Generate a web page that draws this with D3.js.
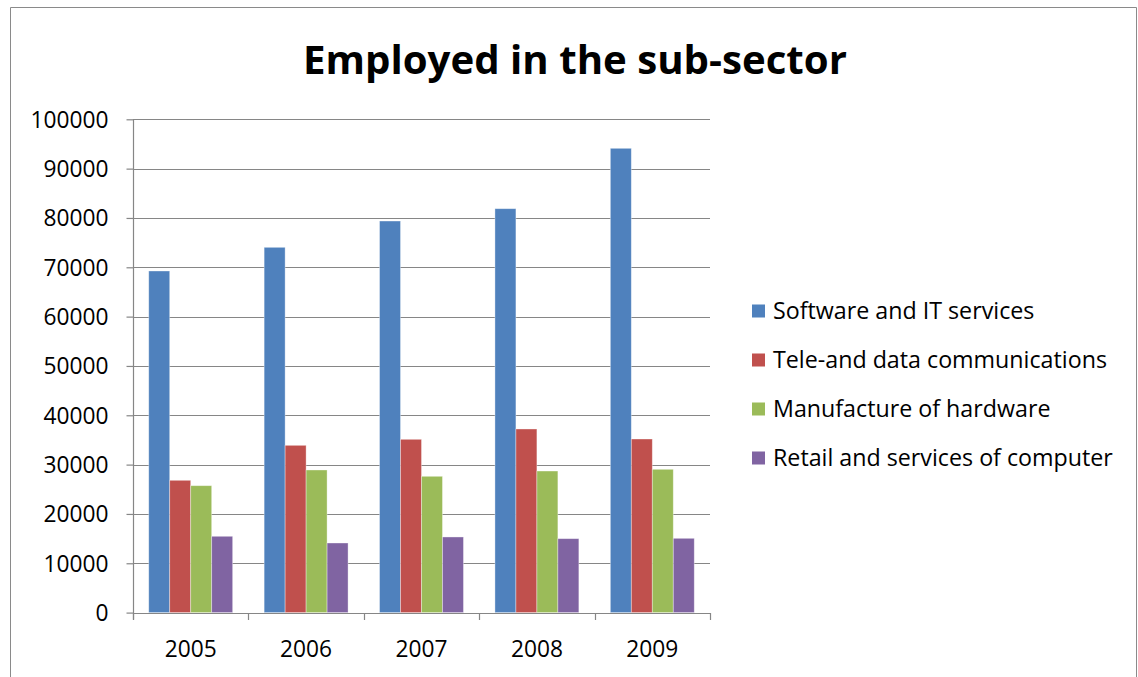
<!DOCTYPE html>
<html>
<head>
<meta charset="utf-8">
<script src="https://cdn.jsdelivr.net/npm/d3@7"></script>
<style>
  html, body { margin: 0; padding: 0; background: #fff; }
  svg { display: block; font-family: "Open Sans", "Noto Sans", sans-serif; }
</style>
</head>
<body>
<svg id="chart" width="1138" height="677"></svg>
<script>
const title = "Employed in the sub-sector";
const years = ["2005", "2006", "2007", "2008", "2009"];
const seriesNames = ["Software and IT services", "Tele-and data communications", "Manufacture of hardware", "Retail and services of computer"];
const software = [69250, 74050, 79380, 81880, 94120];
const telecom  = [26820, 33910, 35130, 37220, 35190];
const hardware = [25730, 28910, 27630, 28700, 29050];
const retail   = [15470, 14110, 15330, 14990, 15060];
const yTicks = [0, 10000, 20000, 30000, 40000, 50000, 60000, 70000, 80000, 90000, 100000];
const colors = ["#4F81BD", "#C0504D", "#9BBB59", "#8064A2"];

const seriesValues = [software, telecom, hardware, retail];
const svg = d3.select("#chart");
const axisColor = "#868686";

// outer chart border
svg.append("path")
  .attr("d", "M10.5,677 L10.5,7.5 L1136.5,7.5 L1136.5,677")
  .attr("fill", "none").attr("stroke", "#8a8a8a").attr("stroke-width", 1);

const plot = { left: 133, right: 710, top: 119.3, bottom: 612.6 };

const x0 = d3.scaleBand().domain(years).range([plot.left, plot.right]).paddingInner(0).paddingOuter(0);
// Excel gap width 150%: each side 0.75 bar widths
const bw = x0.bandwidth() / 5.5;
const y = d3.scaleLinear().domain([0, 100000]).range([plot.bottom, plot.top]);

function fit(sel, target) {
  sel.each(function () {
    const node = this;
    const fs = parseFloat(d3.select(node).attr("font-size"));
    const w = node.getComputedTextLength();
    if (w > 0) d3.select(node).attr("font-size", (fs * target / w).toFixed(2));
  });
}

// gridlines
svg.append("g").selectAll("line").data(yTicks.filter(d => d > 0)).join("line")
  .attr("x1", plot.left).attr("x2", plot.right)
  .attr("y1", d => Math.round(y(d)) + 0.5).attr("y2", d => Math.round(y(d)) + 0.5)
  .attr("stroke", axisColor).attr("stroke-width", 1.2);

// bars
const groups = svg.append("g").selectAll("g").data(years).join("g")
  .attr("transform", d => `translate(${x0(d)},0)`);
groups.selectAll("rect")
  .data((yr, i) => seriesValues.map((vals, s) => ({ s, v: vals[i] })))
  .join("rect")
  .attr("x", d => 0.75 * bw + d.s * bw)
  .attr("width", bw)
  .attr("y", d => y(d.v))
  .attr("height", d => y(0) - y(d.v))
  .attr("fill", d => colors[d.s])
  .attr("stroke", "rgba(255,255,255,0.45)").attr("stroke-width", 0.8);

// y axis
const yAxis = svg.append("g").attr("transform", `translate(${plot.left + 0.5},0)`)
  .call(d3.axisLeft(y).tickValues(yTicks).tickSize(7).tickPadding(18).tickFormat(d3.format("d")));
yAxis.select(".domain").attr("stroke", axisColor).attr("stroke-width", 1.2).attr("d", `M0,${plot.top}V${plot.bottom + 7}`);
yAxis.selectAll(".tick line").attr("stroke", axisColor).attr("stroke-width", 1.2);
yAxis.selectAll(".tick text").attr("font-size", 22).attr("font-family", "Open Sans").attr("fill", "#000")
  .attr("dy", "0.34em");
fit(yAxis.selectAll(".tick text").filter(d => d === 100000), 78);
const yfs = yAxis.selectAll(".tick text").filter(d => d === 100000).attr("font-size");
yAxis.selectAll(".tick text").attr("font-size", yfs);

// x axis
const xAxis = svg.append("g").attr("transform", `translate(0,${Math.round(plot.bottom) + 0.5})`)
  .call(d3.axisBottom(x0).tickSize(0).tickPadding(0));
xAxis.select(".domain").attr("stroke", axisColor).attr("stroke-width", 1.2).attr("d", `M${plot.left},0H${plot.right}`);
xAxis.selectAll(".tick text").attr("font-size", yfs).attr("font-family", "Open Sans").attr("fill", "#000")
  .attr("y", 43).attr("dy", 0);
// category boundary ticks
svg.append("g").selectAll("line").data(years.concat(["end"])).join("line")
  .attr("x1", (d, i) => Math.round(i < years.length ? x0(d) : plot.right) + 0.5)
  .attr("x2", (d, i) => Math.round(i < years.length ? x0(d) : plot.right) + 0.5)
  .attr("y1", Math.round(plot.bottom)).attr("y2", Math.round(plot.bottom) + 7)
  .attr("stroke", axisColor).attr("stroke-width", 1.2);

// title
const t = svg.append("text").attr("x", 575).attr("y", 74).attr("text-anchor", "middle")
  .attr("font-size", 38).attr("font-weight", "bold").attr("fill", "#000").text(title);
fit(t, 544);

// legend
const legend = svg.append("g");
const rowY = [311, 360, 409, 458];
const items = legend.selectAll("g").data(seriesNames).join("g")
  .attr("transform", (d, i) => `translate(752,${rowY[i]})`);
items.append("rect").attr("x", 0).attr("y", -6.5).attr("width", 13).attr("height", 13)
  .attr("fill", (d, i) => colors[i]);
const lt = items.append("text").attr("x", 21).attr("y", 0).attr("dy", "0.35em")
  .attr("font-size", 22).attr("fill", "#000").text(d => d);
fit(lt.filter((d, i) => i === 3), 340);
const lfs = lt.filter((d, i) => i === 3).attr("font-size");
lt.attr("font-size", lfs);
</script>
</body>
</html>
